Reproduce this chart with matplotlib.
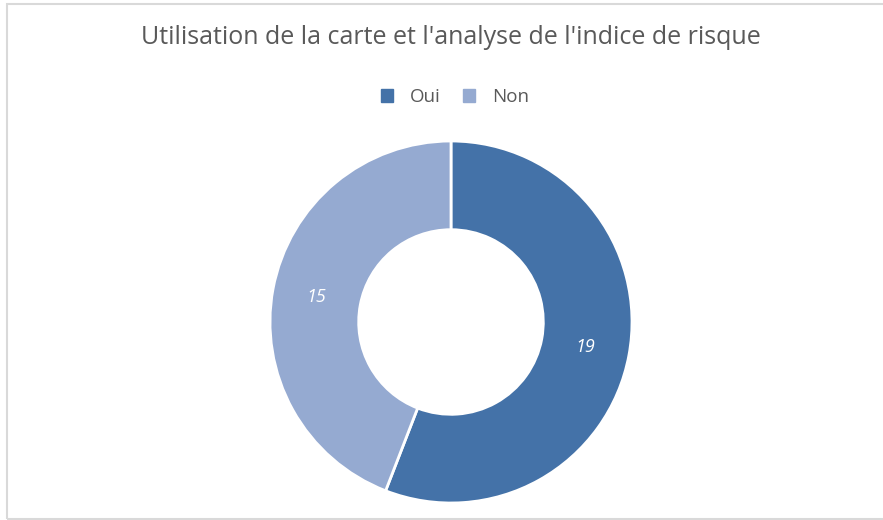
import matplotlib.pyplot as plt
from matplotlib.patches import Rectangle
import numpy as np

title = "Utilisation de la carte et l'analyse de l'indice de risque"
labels = ['Oui', 'Non']
values = [19, 15]
colors = ['#4472a8', '#95aad1']

W, H = 883, 520
fig = plt.figure(figsize=(W / 100, H / 100), dpi=100)
plt.rcParams['font.family'] = ['Open Sans', 'DejaVu Sans']

# cadre gris clair autour du graphique
fig.patches.append(Rectangle((7 / W, 1 - 519 / H), 1.0, (519 - 4) / H,
                             transform=fig.transFigure, fill=False,
                             edgecolor='#d9d9d9', linewidth=1.5))

# donut : centre (451, 322) px, rayon 181 px
cx, cy, r = 451, 322, 181
ax = fig.add_axes([(cx - r) / W, (H - cy - r) / H, 2 * r / W, 2 * r / H])
width = 0.49
wedges, _ = ax.pie(values, colors=colors, startangle=90, counterclock=False,
                   radius=1.0, wedgeprops=dict(width=width, edgecolor='white', linewidth=2))
ax.set_xlim(-1, 1)
ax.set_ylim(-1, 1)
ax.set_aspect('equal')
ax.axis('off')

# étiquettes au milieu de l'anneau
total = sum(values)
start = 90
mid_r = 1 - width / 2
for v in values:
    sweep = v / total * 360
    ang = np.deg2rad(start - sweep / 2)
    ax.text(mid_r * np.cos(ang), mid_r * np.sin(ang), str(v), ha='center', va='center',
            color='white', fontsize=13, style='italic')
    start -= sweep

fig.text(451 / W, 1 - 37 / H, title, ha='center', va='center', fontsize=18, color='#595959')

# légende
handles = [Rectangle((0, 0), 1, 1, color=c) for c in colors]
fig.legend(handles, labels, loc='center', bbox_to_anchor=(455 / W, 1 - 97 / H), ncol=2,
           frameon=False, fontsize=13.5, labelcolor='#595959', handlelength=0.65,
           handleheight=0.65, handletextpad=0.9, columnspacing=1.2)

fig.savefig('out.png', dpi=100, facecolor='white')
